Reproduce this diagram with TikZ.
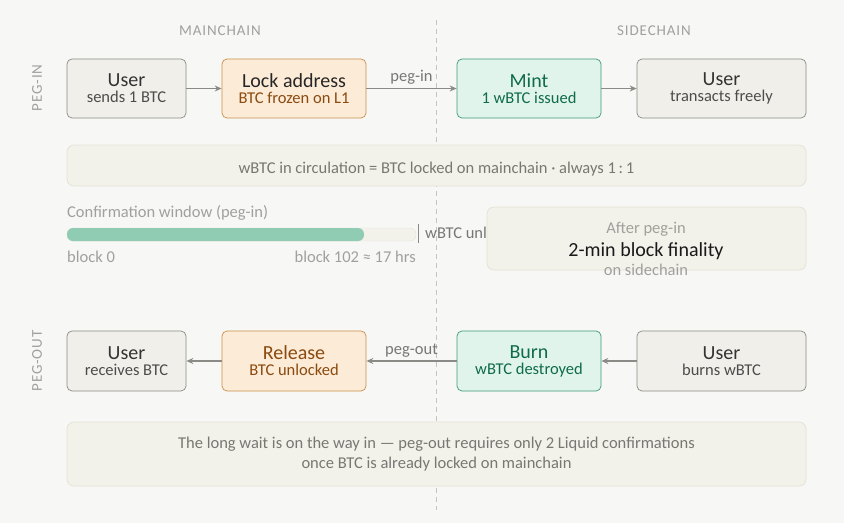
\documentclass[tikz,border=0pt]{standalone}
\usepackage{fontspec}
\setmainfont{Carlito}
\newfontfamily\spaced[LetterSpace=6]{Carlito}
\usetikzlibrary{arrows.meta}
\definecolor{bg}{HTML}{F7F7F5}
\definecolor{gfill}{HTML}{F1EFEA}
\definecolor{gline}{HTML}{8A8A86}
\definecolor{ofill}{HTML}{FCEBD6}
\definecolor{oline}{HTML}{C8904A}
\definecolor{otext}{HTML}{8A4A10}
\definecolor{nfill}{HTML}{E1F4EC}
\definecolor{nline}{HTML}{3C9A78}
\definecolor{ntext}{HTML}{0E6B4C}
\definecolor{bfill}{HTML}{F3F2EA}
\definecolor{bline}{HTML}{E4E2D6}
\definecolor{lbl}{HTML}{A0A09C}
\definecolor{txt}{HTML}{777773}
\definecolor{bar}{HTML}{90CBB4}
\tikzset{
 box/.style={draw, rounded corners=5pt, line width=0.7pt, minimum height=59pt, align=center, inner sep=0pt},
 gbox/.style={box, fill=gfill, draw=gline},
 obox/.style={box, fill=ofill, draw=oline},
 nbox/.style={box, fill=nfill, draw=nline},
 band/.style={draw=bline, fill=bfill, rounded corners=7pt, line width=0.7pt},
 arr/.style={-{Stealth[length=7pt,width=6pt]}, draw=gline, line width=1.1pt},
 t1/.style={font=\fontsize{20}{22}\selectfont},
 t2/.style={font=\fontsize{16.5}{19}\selectfont},
 hd/.style={text=lbl, font=\spaced\fontsize{15}{17}\selectfont},
}
\newcommand{\twol}[4]{{\fontsize{20}{22}\selectfont\color{#1}#2}\\[4pt]{\fontsize{16.5}{18}\selectfont\color{#3}#4}}
\begin{document}
\begin{tikzpicture}[x=1pt,y=-1pt]
\useasboundingbox[fill=bg] (0,0) rectangle (844,523);
\draw[bline!70!gray, line width=0.7pt, dash pattern=on 5pt off 4pt] (436,20) -- (436,510);
\node[hd] (hm) at (220,31) {MAINCHAIN};
\node[hd] (hs) at (654,31) {SIDECHAIN};
\node[hd, rotate=90] (pin) at (37,88) {PEG-IN};
\node[hd, rotate=90] (pout) at (37,361) {PEG-OUT};
% peg-in row
\node[gbox, minimum width=119pt] (u1) at (126.5,88.5) {\twol{black!80}{User}{black!70}{sends 1 BTC}};
\node[obox, minimum width=144pt] (lk) at (294,88.5) {\twol{black!85}{Lock address}{otext}{BTC frozen on L1}};
\node[nbox, minimum width=144pt] (mi) at (529,88.5) {\twol{ntext}{Mint}{ntext}{1 wBTC issued}};
\node[gbox, minimum width=169pt] (u2) at (721.5,88.5) {\twol{black!80}{User}{black!70}{transacts freely}};
\draw[arr] (u1) -- (lk);
\draw[arr] (lk) -- node[above, text=txt, t2, yshift=0pt] {peg-in} (mi);
\draw[arr] (mi) -- (u2);
\draw[band] (67,145) rectangle (806,186);
\node[text=txt, t2] (inv) at (436.5,169) {wBTC in circulation = BTC locked on mainchain · always 1\,:\,1};
% bar
\node[text=lbl, t2, anchor=west, inner sep=0pt] (cw) at (67,213) {Confirmation window (peg-in)};
\draw[fill=bfill, draw=bline, rounded corners=6pt] (67,228) rectangle (416,241);
\fill[bar, rounded corners=6pt] (67,228) rectangle (364,241);
\draw[gline, line width=1pt] (418,224) -- (418,243);
\node[text=txt, t2, anchor=west, inner sep=0pt] (wu) at (425,233) {wBTC unlocked};
\node[text=lbl, t2, anchor=west, inner sep=0pt] (b0) at (67,257) {block 0};
\node[text=lbl, t2, anchor=east, inner sep=0pt] (b1) at (416,257) {block 102 ≈ 17 hrs};
\draw[band, fill=bfill] (487,207) rectangle (806,270);
\node[text=lbl, t2] (ap) at (646,229) {After peg-in};
\node[text=black!90, t1] (fin) at (646,251) {2-min block finality};
\node[text=lbl, t2] (os) at (646,270) {on sidechain};
% peg-out row
\node[gbox, minimum width=119pt, minimum height=60pt] (u3) at (126.5,361) {\twol{black!80}{User}{black!70}{receives BTC}};
\node[obox, minimum width=144pt, minimum height=60pt] (rl) at (294,361) {\twol{otext}{Release}{otext}{BTC unlocked}};
\node[nbox, minimum width=144pt, minimum height=60pt] (bu) at (529,361) {\twol{ntext}{Burn}{ntext}{wBTC destroyed}};
\node[gbox, minimum width=169pt, minimum height=60pt] (u4) at (721.5,361) {\twol{black!80}{User}{black!70}{burns wBTC}};
\draw[arr] (u4) -- (bu);
\draw[arr] (bu) -- node[above, text=txt, t2] {peg-out} (rl);
\draw[arr] (rl) -- (u3);
\draw[band] (67,422) rectangle (806,486);
\node[text=txt, t2, align=center] (nt) at (436.5,454) {The long wait is on the way in — peg-out requires only 2 Liquid confirmations\\[1pt]once BTC is already locked on mainchain};
\end{tikzpicture}
\end{document}
